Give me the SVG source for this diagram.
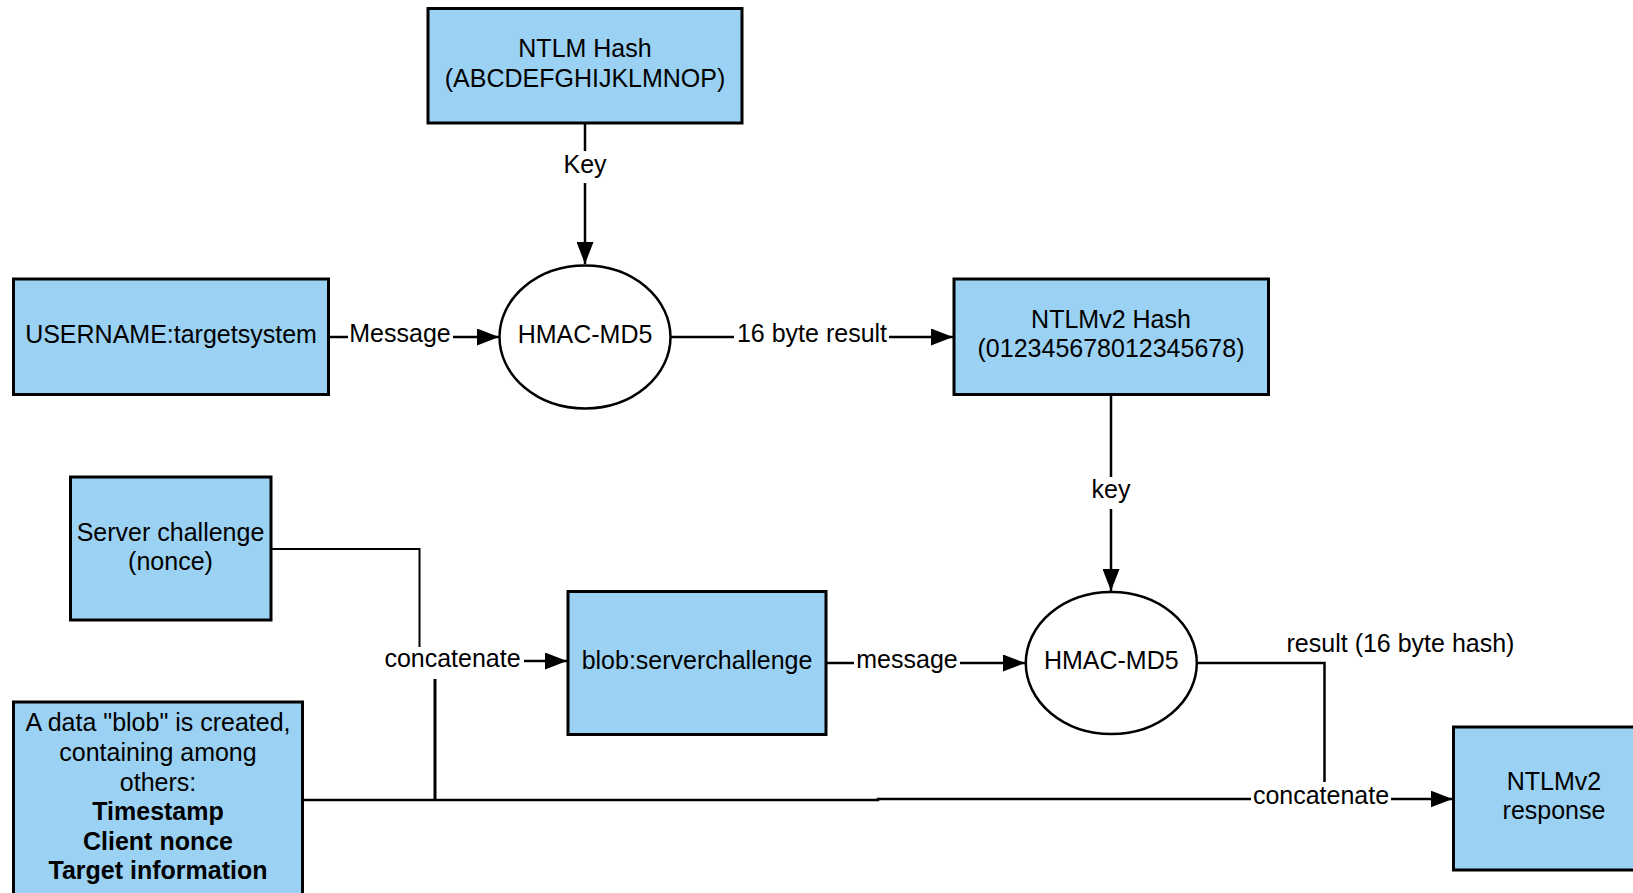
<svg xmlns="http://www.w3.org/2000/svg" width="1633" height="893" viewBox="0 0 1633 893">
  <defs>
    <style>
      .box { fill: #9bd1f2; stroke: #000; stroke-width: 3; }
      .op { fill: #fff; stroke: #000; stroke-width: 2.5; }
      .line { fill: none; stroke: #000; stroke-width: 2.5; }
      .lbl-bg { fill: #fff; }
      text { font-family: "Liberation Sans", Arial, sans-serif; font-size: 25px; fill: #000; text-anchor: middle; }
      .b { font-weight: bold; }
    </style>
    <marker id="arrow" markerUnits="userSpaceOnUse" markerWidth="22" markerHeight="17" refX="22" refY="8.5" orient="auto">
      <path d="M0,0 L22,8.5 L0,17 Z" fill="#000"/>
    </marker>
  </defs>

  <rect width="1633" height="893" fill="#fff"/>

  <!-- connectors -->
  <g id="connectors">
    <path class="line" d="M585,123 V264" marker-end="url(#arrow)"/>
    <path class="line" d="M328.5,337 H499" marker-end="url(#arrow)"/>
    <path class="line" d="M671,337 H953" marker-end="url(#arrow)"/>
    <path class="line" d="M1111,395 V591" marker-end="url(#arrow)"/>
    <path class="line" d="M271,549 H419.5 V662" style="stroke-width:2"/>
    <path class="line" d="M435,800 V662" style="stroke-width:3"/>
    <path class="line" d="M452,661 H567" marker-end="url(#arrow)"/>
    <path class="line" d="M826,663 H1025" marker-end="url(#arrow)"/>
    <path class="line" d="M1197,663 H1324.5 V799"/>
    <path class="line" d="M303,800 H878 V799 H1452.5" marker-end="url(#arrow)"/>

    <g id="lbl-key1">
      <rect class="lbl-bg" x="561" y="151" width="48" height="32"/>
      <text x="585" y="172.5">Key</text>
    </g>
    <g id="lbl-message1">
      <rect class="lbl-bg" x="348" y="322" width="105" height="30"/>
      <text x="400" y="342">Message</text>
    </g>
    <g id="lbl-result1">
      <rect class="lbl-bg" x="734" y="322" width="155" height="30"/>
      <text x="812" y="342">16 byte result</text>
    </g>
    <g id="lbl-key2">
      <rect class="lbl-bg" x="1089" y="477" width="44" height="32"/>
      <text x="1111" y="498">key</text>
    </g>
    <g id="lbl-concat1">
      <rect class="lbl-bg" x="381" y="647" width="143" height="32"/>
      <text x="452.5" y="667">concatenate</text>
    </g>
    <g id="lbl-message2">
      <rect class="lbl-bg" x="854" y="648" width="106" height="30"/>
      <text x="907" y="668">message</text>
    </g>
    <g id="lbl-concat2">
      <rect class="lbl-bg" x="1251" y="782" width="140" height="33"/>
      <text x="1321" y="803.5">concatenate</text>
    </g>
    <text x="1400.5" y="652">result (16 byte hash)</text>
  </g>

  <!-- nodes -->
  <g id="ntlm-hash">
    <rect class="box" x="428" y="8.5" width="314" height="114.5"/>
    <text x="585" y="56.5">NTLM Hash</text>
    <text x="585" y="86.5">(ABCDEFGHIJKLMNOP)</text>
  </g>

  <g id="username">
    <rect class="box" x="13.5" y="279" width="315" height="115.5"/>
    <text x="171" y="342.5">USERNAME:targetsystem</text>
  </g>

  <g id="hmac1">
    <ellipse class="op" cx="585" cy="337" rx="85.5" ry="71.5"/>
    <text x="585" y="342.5">HMAC-MD5</text>
  </g>

  <g id="ntlmv2-hash">
    <rect class="box" x="954" y="279" width="314.5" height="115.5"/>
    <text x="1111" y="328">NTLMv2 Hash</text>
    <text x="1111" y="357">(012345678012345678)</text>
  </g>

  <g id="server-challenge">
    <rect class="box" x="70.5" y="477" width="200.5" height="143"/>
    <text x="170.5" y="540.5">Server challenge</text>
    <text x="170.5" y="570">(nonce)</text>
  </g>

  <g id="blob-serverchallenge">
    <rect class="box" x="568" y="591.5" width="258" height="143"/>
    <text x="697" y="668.5">blob:serverchallenge</text>
  </g>

  <g id="hmac2">
    <ellipse class="op" cx="1111.3" cy="663" rx="85.5" ry="71"/>
    <text x="1111.3" y="668.5">HMAC-MD5</text>
  </g>

  <g id="data-blob">
    <rect class="box" x="13.5" y="702" width="289" height="210"/>
    <text x="158" y="731">A data "blob" is created,</text>
    <text x="158" y="761">containing among</text>
    <text x="158" y="790.5">others:</text>
    <text class="b" x="158" y="820">Timestamp</text>
    <text class="b" x="158" y="849.5">Client nonce</text>
    <text class="b" x="158" y="879">Target information</text>
  </g>

  <g id="ntlmv2-response">
    <rect class="box" x="1453.5" y="727" width="210" height="143"/>
    <text x="1554" y="789.5">NTLMv2</text>
    <text x="1554" y="819">response</text>
  </g>
</svg>
